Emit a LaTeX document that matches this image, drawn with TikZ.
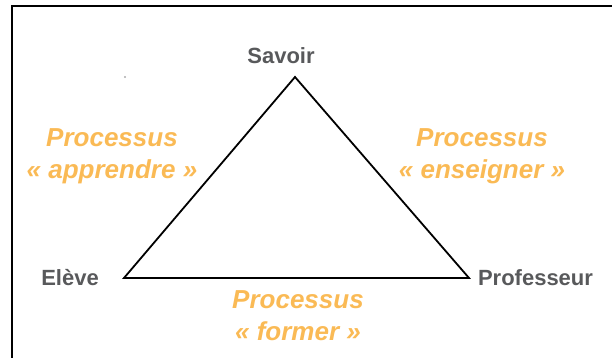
\documentclass[tikz,border=0pt]{standalone}
\usepackage{fontspec}
\setmainfont{Liberation Sans}
\definecolor{pole}{RGB}{88,89,91}
\definecolor{processus}{RGB}{250,186,85}
\begin{document}
\begin{tikzpicture}[y=1pt, x=1pt, yscale=-1.000000, xscale=1.000000, inner sep=0pt, outer sep=0pt,
	pole/.style={font=\fontsize{22}{24}\selectfont\bfseries, text=pole, anchor=base},
	proc/.style={font=\fontsize{26}{32}\selectfont\bfseries\itshape, text=processus, align=center, anchor=base}]
\useasboundingbox (0,0) rectangle (612,358);
	\draw[line width=2] (11.5,358) -- (11.5,6) -- (612,6);
	\fill[pole!50] (125,77) circle (1.2);
	\coordinate (S) at (295,77);
	\coordinate (E) at (124,278);
	\coordinate (P) at (469,278);
	\draw[line width=1.8, line join=miter] (S) -- (P) -- (E) -- cycle;
	\node[pole] (savoir) at (281,64) {Savoir};
	\node[pole] (eleve) at (70,285) {Elève};
	\node[pole] (prof) at (535.5,285) {Professeur};
	\node[proc] (apprendre) at (112,178) {Processus\\«~apprendre~»};
	\node[proc] (enseigner) at (482,178) {Processus\\«~enseigner~»};
	\node[proc] (former) at (298,340) {Processus\\«~former~»};
\end{tikzpicture}
\end{document}
